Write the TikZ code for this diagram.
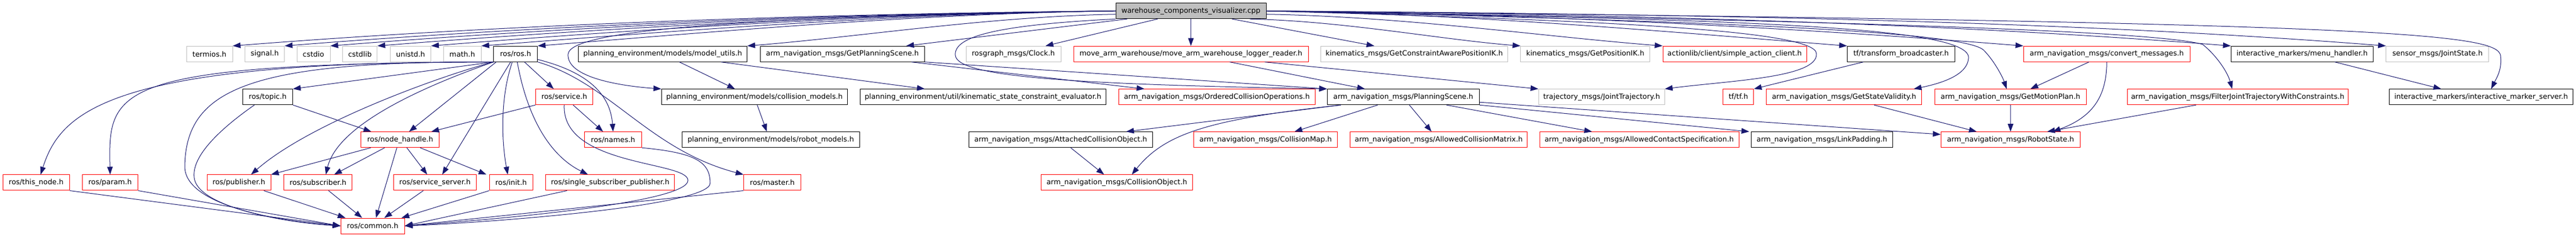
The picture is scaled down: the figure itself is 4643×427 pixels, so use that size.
\documentclass[tikz,border=0pt]{standalone}
\usepackage{fontspec}
\setmainfont{DejaVu Sans}
\usepackage{tikz}
\usetikzlibrary{arrows.meta}
\definecolor{edgeblue}{HTML}{191970}
\definecolor{sysgray}{HTML}{BFBFBF}

\begin{document}
\begin{tikzpicture}[x=1pt,y=-1pt,
    incfile/.style={draw=black,line width=1pt,minimum height=28pt,inner xsep=2pt,inner ysep=0pt,font=\fontsize{12.9}{15}\selectfont},
    redfile/.style={incfile,draw=red},
    grayfile/.style={incfile,draw=sysgray},
    rootfile/.style={incfile,fill=sysgray},
    dep/.style={draw=edgeblue,line width=1pt,-{Triangle[length=14pt,width=10pt]}}]
    \useasboundingbox (0,0) rectangle (4643,427);
    % the file itself
    \node[rootfile, minimum width=271pt] (root) at (2146.5,19.7) {warehouse\_components\_visualizer.cpp};
    % first row
    \node[grayfile, minimum width=83pt] (termios) at (377.5,97.2) {termios.h};
    \node[grayfile, minimum width=71pt] (signal) at (477.2,97.2) {signal.h};
    \node[grayfile, minimum width=60pt] (cstdio) at (565,97.2) {cstdio};
    \node[grayfile, minimum width=62pt] (cstdlib) at (648.8,97.2) {cstdlib};
    \node[grayfile, minimum width=73pt] (unistd) at (740,97.2) {unistd.h};
    \node[grayfile, minimum width=68pt] (math) at (833.2,97.2) {math.h};
    \node[incfile, minimum width=79pt] (ros) at (929.3,97.2) {ros/ros.h};
    \node[incfile, minimum width=304pt] (modelutils) at (1194.5,97.2) {planning\_environment/models/model\_utils.h};
    \node[incfile, minimum width=296pt] (getscene) at (1518.3,97.2) {arm\_navigation\_msgs/GetPlanningScene.h};
    \node[grayfile, minimum width=171pt] (clock) at (1826.5,97.2) {rosgraph\_msgs/Clock.h};
    \node[redfile, minimum width=423pt] (logger) at (2146.5,97.2) {move\_arm\_warehouse/move\_arm\_warehouse\_logger\_reader.h};
    \node[grayfile, minimum width=337pt] (awareik) at (2549,97.2) {kinematics\_msgs/GetConstraintAwarePositionIK.h};
    \node[grayfile, minimum width=233pt] (positionik) at (2857.3,97.2) {kinematics\_msgs/GetPositionIK.h};
    \node[redfile, minimum width=259pt] (actionclient) at (3126.5,97.2) {actionlib/client/simple\_action\_client.h};
    \node[incfile, minimum width=194pt] (broadcaster) at (3426.5,97.2) {tf/transform\_broadcaster.h};
    \node[redfile, minimum width=300pt] (convert) at (3797.2,97.2) {arm\_navigation\_msgs/convert\_messages.h};
    \node[incfile, minimum width=256pt] (menu) at (4149.2,97.2) {interactive\_markers/menu\_handler.h};
    \node[grayfile, minimum width=185pt] (jointstate) at (4393.3,97.2) {sensor\_msgs/JointState.h};
    % second row
    \node[incfile, minimum width=90pt] (topic) at (482.5,174.7) {ros/topic.h};
    \node[redfile, minimum width=103pt] (service) at (1017,174.7) {ros/service.h};
    \node[incfile, minimum width=335pt] (colmodels) at (1359.8,174.7) {planning\_environment/models/collision\_models.h};
    \node[incfile, minimum width=443pt] (evaluator) at (1771.8,174.7) {planning\_environment/util/kinematic\_state\_constraint\_evaluator.h};
    \node[redfile, minimum width=354pt] (orderedops) at (2193.2,174.7) {arm\_navigation\_msgs/OrderedCollisionOperations.h};
    \node[incfile, minimum width=274pt] (scene) at (2529.2,174.7) {arm\_navigation\_msgs/PlanningScene.h};
    \node[grayfile, minimum width=227pt] (trajectory) at (2886.7,174.7) {trajectory\_msgs/JointTrajectory.h};
    \node[redfile, minimum width=55pt] (tf) at (3133.2,174.7) {tf/tf.h};
    \node[redfile, minimum width=280pt] (validity) at (3323.8,174.7) {arm\_navigation\_msgs/GetStateValidity.h};
    \node[redfile, minimum width=273pt] (motionplan) at (3623.7,174.7) {arm\_navigation\_msgs/GetMotionPlan.h};
    \node[redfile, minimum width=398pt] (filter) at (4033.2,174.7) {arm\_navigation\_msgs/FilterJointTrajectoryWithConstraints.h};
    \node[incfile, minimum width=331pt] (markerserver) at (4472,174.7) {interactive\_markers/interactive\_marker\_server.h};
    % third row
    \node[redfile, minimum width=141pt] (nodehandle) at (721.3,251.7) {ros/node\_handle.h};
    \node[redfile, minimum width=103pt] (names) at (1105,251.7) {ros/names.h};
    \node[incfile, minimum width=320pt] (robotmodels) at (1389.2,251.7) {planning\_environment/models/robot\_models.h};
    \node[incfile, minimum width=331pt] (attached) at (1911.8,251.7) {arm\_navigation\_msgs/AttachedCollisionObject.h};
    \node[redfile, minimum width=259pt] (colmap) at (2281.2,251.7) {arm\_navigation\_msgs/CollisionMap.h};
    \node[redfile, minimum width=319pt] (collmatrix) at (2593.2,251.7) {arm\_navigation\_msgs/AllowedCollisionMatrix.h};
    \node[redfile, minimum width=359pt] (contact) at (2954.5,251.7) {arm\_navigation\_msgs/AllowedContactSpecification.h};
    \node[incfile, minimum width=255pt] (padding) at (3283.8,251.7) {arm\_navigation\_msgs/LinkPadding.h};
    \node[redfile, minimum width=251pt] (robotstate) at (3623.8,251.7) {arm\_navigation\_msgs/RobotState.h};
    % fourth row
    \node[redfile, minimum width=120pt] (thisnode) at (65.2,329) {ros/this\_node.h};
    \node[redfile, minimum width=100pt] (param) at (198.5,329) {ros/param.h};
    \node[redfile, minimum width=115pt] (publisher) at (430.5,329) {ros/publisher.h};
    \node[redfile, minimum width=123pt] (subscriber) at (573.2,329) {ros/subscriber.h};
    \node[redfile, minimum width=149pt] (srvserver) at (784,329) {ros/service\_server.h};
    \node[redfile, minimum width=78pt] (init) at (921.2,329) {ros/init.h};
    \node[redfile, minimum width=232pt] (singlepub) at (1099.8,329) {ros/single\_subscriber\_publisher.h};
    \node[redfile, minimum width=103pt] (master) at (1392,329) {ros/master.h};
    \node[redfile, minimum width=273pt] (colobject) at (2013,329) {arm\_navigation\_msgs/CollisionObject.h};
    % last row
    \node[redfile, minimum width=115pt] (common) at (671.7,407) {ros/common.h};

    % root to the first row
    \draw[dep] (root.west) .. controls (1454,25) and (897,45) .. (termios.north east);
    \draw[dep] (root.west) .. controls (1487,25) and (962,47) .. (signal.north east);
    \draw[dep] (root.west) .. controls (1515,25) and (1020,49) .. (cstdio.north east);
    \draw[dep] (root.west) .. controls (1545,25) and (1079,51) .. (cstdlib.north east);
    \draw[dep] (root.west) .. controls (1579,25) and (1147,53) .. (unistd.north east);
    \draw[dep] (root.west) .. controls (1611,25) and (1211,56) .. (math.north east);
    \draw[dep] (root.west) .. controls (1646,25) and (1281,58) .. (ros.north east);
    \draw[dep] ([yshift=-6pt]root.west) .. controls (1778,30) and (1546,67) .. (modelutils.north east);
    \draw[dep] ([xshift=21pt]root.south west) -- ([xshift=115pt]getscene.north);
    \draw[dep] ([xshift=76pt]root.south west) -- ([xshift=58pt]clock.north);
    \draw[dep] (root.south) -- (logger.north);
    \draw[dep] ([xshift=-62pt]root.south east) -- ([xshift=-72pt]awareik.north);
    \draw[dep] ([xshift=-30pt]root.south east) .. controls (2423,38) and (2594,71) .. (positionik.north west);
    \draw[dep] ([yshift=-6pt]root.east) .. controls (2532,30) and (2782,66) .. (actionclient.north west);
    \draw[dep] (root.east) .. controls (2649,25) and (3015,58) .. (broadcaster.north west);
    \draw[dep] (root.east) .. controls (2760,25) and (3237,50) .. (convert.north west);
    \draw[dep] (root.east) .. controls (2891,25) and (3499,41) .. (menu.north west);
    \draw[dep] (root.east) .. controls (2989,25) and (3695,35) .. (jointstate.north west);
    % root to the lower rows
    \draw[dep] (root.west) .. controls (1400,30) and (1030,50) .. (1024,97) .. controls (1020,140) and (1120,155) .. (colmodels.north west);
    \draw[dep] (root.south west) .. controls (1800,45) and (1718,65) .. (1722,100) .. controls (1726,140) and (1950,152) .. (scene.north west);
    \draw[dep] (root.east) .. controls (2800,35) and (3275,50) .. (3274,97) .. controls (3276,140) and (3120,145) .. (trajectory.north east);
    \draw[dep] (root.east) .. controls (3100,35) and (3555,45) .. (3548,105) .. controls (3546,135) and (3500,150) .. ([xshift=-15pt]validity.north east);
    \draw[dep] (root.east) .. controls (3200,40) and (3540,60) .. (3575,90) .. controls (3595,110) and (3610,140) .. ([xshift=-7pt]motionplan.north);
    \draw[dep] (root.east) .. controls (3500,40) and (3900,60) .. (3970,80) .. controls (3995,100) and (4015,130) .. ([xshift=-10pt]filter.north);
    \draw[dep] (root.east) .. controls (4300,40) and (4500,60) .. (4507,100) .. controls (4510,125) and (4500,140) .. ([xshift=18pt]markerserver.north);

    % ros/ros.h
    \draw[dep] (ros.south west) .. controls (200,110) and (110,200) .. ([xshift=8pt]thisnode.north);
    \draw[dep] (ros.south west) .. controls (200,115) and (195,160) .. (param.north);
    \draw[dep] (ros.south west) .. controls (450,110) and (335,160) .. (333,300) .. controls (333,370) and (500,398) .. (common.west);
    \draw[dep] (ros.south west) -- (topic.north east);
    \draw[dep] (ros.south west) .. controls (800,135) and (560,220) .. ([xshift=22pt]publisher.north);
    \draw[dep] (ros.south west) .. controls (780,150) and (610,220) .. ([xshift=14pt]subscriber.north);
    \draw[dep] ([xshift=5pt]ros.south west) -- ([xshift=16pt]nodehandle.north);
    \draw[dep] ([xshift=-9pt]ros.south) -- ([xshift=13pt]srvserver.north);
    \draw[dep] ([xshift=-6pt]ros.south) .. controls (900,180) and (905,260) .. ([xshift=-6pt]init.north);
    \draw[dep] ([xshift=3pt]ros.south) .. controls (950,210) and (990,280) .. ([xshift=-40pt]singlepub.north);
    \draw[dep] ([xshift=16pt]ros.south) -- ([xshift=-19pt]service.north);
    \draw[dep] ([yshift=-10pt]ros.east) .. controls (1060,130) and (1100,170) .. (names.north);
    \draw[dep] (ros.south east) .. controls (1100,150) and (1170,270) .. (master.north west);
    % ros/topic.h and ros/service.h
    \draw[dep] (topic.south east) -- ([xshift=19pt]nodehandle.north west);
    \draw[dep] ([xshift=-24pt]topic.south) .. controls (400,230) and (345,280) .. (350,320) .. controls (355,370) and (500,400) .. (common.west);
    \draw[dep] (service.south west) -- ([xshift=-15pt]nodehandle.north east);
    \draw[dep] ([xshift=16pt]service.south) -- ([xshift=-18pt]names.north);
    \draw[dep] (service.south) .. controls (1012,300) and (1240,290) .. (1240,325) .. controls (1240,365) and (900,395) .. (common.east);
    \draw[dep] (names.south east) .. controls (1250,275) and (1280,290) .. (1280,330) .. controls (1280,370) and (900,400) .. (common.east);
    % ros/node_handle.h
    \draw[dep] ([xshift=-53pt]nodehandle.south) -- (publisher.north east);
    \draw[dep] ([xshift=-28pt]nodehandle.south) -- ([xshift=29pt]subscriber.north);
    \draw[dep] ([xshift=-6pt]nodehandle.south) -- ([xshift=6pt]common.north);
    \draw[dep] ([xshift=12pt]nodehandle.south) -- ([xshift=-14pt]srvserver.north);
    \draw[dep] ([xshift=36pt]nodehandle.south) -- ([xshift=-5pt]init.north west);
    % into ros/common.h
    \draw[dep] (thisnode.south east) -- (common.west);
    \draw[dep] (param.south east) -- (common.west);
    \draw[dep] ([xshift=45pt]publisher.south) -- ([xshift=9pt]common.north west);
    \draw[dep] ([xshift=19pt]subscriber.south) -- ([xshift=39pt]common.north west);
    \draw[dep] ([xshift=-21pt]srvserver.south) -- ([xshift=21pt]common.north);
    \draw[dep] (init.south west) -- ([xshift=-6pt]common.north east);
    \draw[dep] ([xshift=-78pt]singlepub.south) -- (common.east);
    \draw[dep] (master.south west) -- (common.east);

    % planning environment
    \draw[dep] ([xshift=30pt]modelutils.south) -- ([xshift=-35pt]colmodels.north);
    \draw[dep] ([xshift=105pt]modelutils.south) -- ([xshift=-105pt]evaluator.north);
    \draw[dep] ([xshift=5pt]colmodels.south) -- ([xshift=-7pt]robotmodels.north);
    % messages
    \draw[dep] ([xshift=-24pt]getscene.south east) -- ([xshift=47pt]orderedops.north west);
    \draw[dep] (getscene.south east) -- (scene.north west);
    \draw[dep] ([xshift=70pt]logger.south) -- ([xshift=-69pt]scene.north);
    \draw[dep] ([xshift=133pt]logger.south) -- (trajectory.north west);
    \draw[dep] ([xshift=25pt]scene.south west) -- ([xshift=118pt]attached.north);
    \draw[dep] ([xshift=25pt]scene.south west) .. controls (2180,215) and (2100,240) .. ([xshift=27pt]colobject.north);
    \draw[dep] ([xshift=-46pt]scene.south) -- ([xshift=52pt]colmap.north);
    \draw[dep] ([xshift=11pt]scene.south) -- ([xshift=-13pt]collmatrix.north);
    \draw[dep] ([xshift=78pt]scene.south) -- ([xshift=-85pt]contact.north);
    \draw[dep] (scene.south east) -- ([xshift=-3pt]padding.north west);
    \draw[dep] ([yshift=5pt]scene.south east) -- ([yshift=-5pt]robotstate.north west);
    \draw[dep] ([xshift=18pt]attached.south) -- ([xshift=-23pt]colobject.north);
    % right part
    \draw[dep] ([xshift=-68pt]broadcaster.south) -- (tf.north east);
    \draw[dep] ([xshift=54pt]validity.south) -- ([xshift=-61pt]robotstate.north);
    \draw[dep] ([xshift=-32pt]convert.south) -- ([xshift=36pt]motionplan.north);
    \draw[dep] (convert.south) .. controls (3797,170) and (3775,210) .. ([xshift=76pt]robotstate.north);
    \draw[dep] (motionplan.south) -- (robotstate.north);
    \draw[dep] ([xshift=-75pt]filter.south) -- ([xshift=66pt]robotstate.north);
    \draw[dep] ([xshift=59pt]menu.south) -- ([xshift=-72pt]markerserver.north);
\end{tikzpicture}
\end{document}
